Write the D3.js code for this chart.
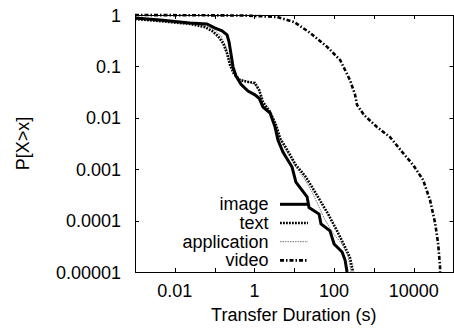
<!DOCTYPE html>
<html>
<head>
<meta charset="utf-8">
<script src="https://cdn.jsdelivr.net/npm/d3@7"></script>
<style>
  html, body { margin: 0; padding: 0; background: #fff; }
  svg { display: block; font-family: "Liberation Sans", Arial, sans-serif; }
</style>
</head>
<body>
<div id="chart"></div>
<script>
// CCDF curves: duration (s) and P[X>x]
const imageX = [0.001, 0.0043, 0.024, 0.064, 0.10, 0.153, 0.205, 0.23, 0.26, 0.29, 0.345, 0.46, 0.69, 1.03, 1.31, 1.64, 2.47, 3.3, 3.9, 5.2, 8.8, 11, 21, 23.5, 42, 47, 79, 100, 159, 189, 212];
const imageY = [0.875, 0.80, 0.70, 0.67, 0.56, 0.49, 0.41, 0.30, 0.167, 0.098, 0.065, 0.045, 0.033, 0.028, 0.024, 0.0162, 0.0124, 0.0066, 0.0037, 0.00216, 0.0011, 0.00056, 0.00029, 0.00018, 0.000134, 0.000086, 0.000063, 0.000035, 0.0000245, 0.0000171, 0.00001];

const textX = [0.001, 0.0043, 0.024, 0.057, 0.086, 0.12, 0.163, 0.205, 0.244, 0.307, 0.435, 0.69, 1.03, 1.31, 1.64, 2.47, 3.5, 4.4, 6.6, 11, 18.7, 28, 44, 71, 119, 189, 252, 300];
const textY = [0.836, 0.76, 0.67, 0.58, 0.49, 0.39, 0.285, 0.18, 0.106, 0.071, 0.054, 0.050, 0.0475, 0.035, 0.0203, 0.013, 0.0072, 0.0040, 0.0024, 0.0012, 0.00074, 0.00045, 0.00025, 0.000134, 0.000063, 0.0000306, 0.0000187, 0.00001];

const appX = [0.001, 0.024, 0.064, 0.10, 0.145, 0.193, 0.244, 0.307, 0.435, 0.69, 1.03, 1.31, 1.64, 2.47, 3.5, 4.4, 6.6, 11, 18.7, 28, 40, 56, 94, 159, 225, 267];
const appY = [0.84, 0.70, 0.61, 0.51, 0.39, 0.24, 0.122, 0.074, 0.057, 0.050, 0.045, 0.032, 0.0185, 0.0124, 0.0066, 0.0039, 0.00216, 0.0011, 0.00062, 0.00036, 0.0002, 0.000112, 0.000057, 0.000035, 0.0000205, 0.00001];

const videoX = [0.001, 0.55, 3.7, 9.9, 25, 67, 142, 252, 337, 378, 568, 1200, 2550, 5420, 9670, 17200, 25800, 34500, 41000, 46000, 46000];
const videoY = [1.0, 0.978, 0.915, 0.73, 0.45, 0.24, 0.133, 0.054, 0.028, 0.0177, 0.0113, 0.0066, 0.0042, 0.00206, 0.00121, 0.00062, 0.00025, 0.00009, 0.0000366, 0.0000125, 0.00001];

const xTicks = [0.001, 0.01, 0.1, 1, 10, 100, 1000, 10000, 100000];
const xTickLabels = ["0.01", "1", "100", "10000"];
const yTicks = [1, 0.1, 0.01, 0.001, 0.0001, 0.00001];
const yTickLabels = ["1", "0.1", "0.01", "0.001", "0.0001", "0.00001"];

const seriesNames = ["image", "text", "application", "video"];

const series = [
  { name: "image", xs: imageX, ys: imageY, stroke: "#000", width: 3, dash: null },
  { name: "text", xs: textX, ys: textY, stroke: "#000", width: 2.6, dash: "1.8,1.2" },
  { name: "application", xs: appX, ys: appY, stroke: "#777", width: 1, dash: "1.5,1" },
  { name: "video", xs: videoX, ys: videoY, stroke: "#000", width: 2.6, dash: "4,2,1.5,2" }
];

const width = 454, height = 328;
const plot = { left: 135, right: 453.5, top: 15, bottom: 272 };

const x = d3.scaleLog().domain([0.001, 100000]).range([plot.left, plot.right]);
const y = d3.scaleLog().domain([0.00001, 1]).range([plot.bottom, plot.top]);

const svg = d3.select("#chart").append("svg")
  .attr("width", width)
  .attr("height", height);

svg.append("clipPath")
  .attr("id", "plot-clip")
  .append("rect")
  .attr("x", plot.left)
  .attr("y", plot.top - 2)
  .attr("width", plot.right - plot.left)
  .attr("height", plot.bottom - plot.top + 2);

// ticks: inward on all four sides
const tickLen = 4;
const ticks = svg.append("g").attr("stroke", "#000").attr("stroke-width", 1);

xTicks.forEach(v => {
  const px = Math.round(x(v)) + 0.5;
  ticks.append("line").attr("x1", px).attr("x2", px).attr("y1", plot.bottom).attr("y2", plot.bottom - tickLen);
  ticks.append("line").attr("x1", px).attr("x2", px).attr("y1", plot.top).attr("y2", plot.top + tickLen);
});
yTicks.forEach(v => {
  const py = Math.round(y(v)) + 0.5;
  ticks.append("line").attr("x1", plot.left).attr("x2", plot.left + tickLen).attr("y1", py).attr("y2", py);
  ticks.append("line").attr("x1", plot.right).attr("x2", plot.right - tickLen).attr("y1", py).attr("y2", py);
});

svg.append("g")
  .selectAll("text")
  .data(xTickLabels)
  .join("text")
  .attr("x", d => x(+d))
  .attr("y", 297)
  .attr("text-anchor", "middle")
  .attr("font-size", 18)
  .text(d => d);

svg.append("g")
  .selectAll("text")
  .data(yTickLabels)
  .join("text")
  .attr("x", 121)
  .attr("y", d => y(+d) + 6.5)
  .attr("text-anchor", "end")
  .attr("font-size", 18)
  .text(d => d);

svg.append("text")
  .attr("x", (plot.left + plot.right) / 2 - 0.5)
  .attr("y", 321)
  .attr("text-anchor", "middle")
  .attr("font-size", 18)
  .text("Transfer Duration (s)");

svg.append("text")
  .attr("transform", "translate(29,143.5) rotate(-90)")
  .attr("text-anchor", "middle")
  .attr("font-size", 18)
  .text("P[X>x]");

const line = d3.line()
  .x(d => x(d[0]))
  .y(d => y(d[1]));

const curves = svg.append("g").attr("clip-path", "url(#plot-clip)");

// draw in reverse so image sits on top
series.slice().reverse().forEach(s => {
  curves.append("path")
    .datum(s.xs.map((v, i) => [v, s.ys[i]]))
    .attr("fill", "none")
    .attr("stroke", s.stroke)
    .attr("stroke-width", s.width)
    .attr("stroke-dasharray", s.dash)
    .attr("stroke-linejoin", "miter")
    .attr("d", line);
});

// frame
svg.append("rect")
  .attr("x", plot.left + 0.5)
  .attr("y", plot.top + 0.5)
  .attr("width", plot.right - plot.left - 0.5)
  .attr("height", plot.bottom - plot.top)
  .attr("fill", "none")
  .attr("stroke", "#000")
  .attr("stroke-width", 1);

// legend
const legend = svg.append("g");
series.forEach((s, i) => {
  const base = 210.3 + i * 18.7;
  legend.append("text")
    .attr("x", 268.5)
    .attr("y", base)
    .attr("text-anchor", "end")
    .attr("font-size", 18)
    .text(seriesNames[i]);
  legend.append("line")
    .attr("x1", 280)
    .attr("x2", 308)
    .attr("y1", base - 6)
    .attr("y2", base - 6)
    .attr("stroke", s.stroke)
    .attr("stroke-width", s.width)
    .attr("stroke-dasharray", s.dash);
});
</script>
</body>
</html>
